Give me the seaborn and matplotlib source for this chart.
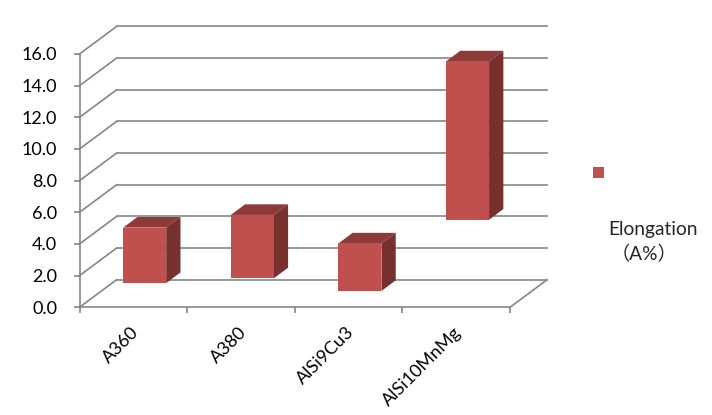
import numpy as np
import pandas as pd
import seaborn as sns
import matplotlib.pyplot as plt
from matplotlib.patches import Polygon, Rectangle
from matplotlib.transforms import Affine2D, IdentityTransform

# values
alloys = ["A360", "A380", "AlSi9Cu3", "AlSi10MnMg"]
elongation_low = [1.0, 1.3, 0.5, 5.0]
elongation_high = [4.5, 5.3, 3.5, 15.0]
y_ticks = [0, 2, 4, 6, 8, 10, 12, 14, 16]

RED_FRONT = "#C0504D"
RED_TOP = "#8E3A38"
RED_SIDE = "#77302E"
AXIS_GREY = "#868686"

# depth of the fake 3D box, in pixels
DEPTH_X = 37
DEPTH_Y = 27.5
BAR_FRONT = 0.307
BAR_BACK = 0.693

sns.set_style("ticks")
plt.rcParams["font.family"] = ["Lato", "Noto Sans CJK SC", "DejaVu Sans"]

df = pd.DataFrame({"alloy": alloys, "low": elongation_low, "high": elongation_high})
df["span"] = df["high"] - df["low"]

fig = plt.figure(figsize=(7.12, 4.15), dpi=100)
W, H = 712, 415
ax = fig.add_axes([79.5 / W, 1 - 307.3 / H, 430.5 / W, 253.3 / H])

sns.barplot(data=df, x="alloy", y="span", bottom=df["low"].values, width=0.4,
            color=RED_FRONT, saturation=1, ax=ax, zorder=5, linewidth=0, edgecolor="none")
ax.set_xlim(-0.5, len(alloys) - 0.5)
ax.set_ylim(0, 16)


# data position + depth (0 front, 1 back) -> pixels
def project(x, y, depth):
    px, py = ax.transData.transform((x, y))
    return px + depth * DEPTH_X, py + depth * DEPTH_Y


def line(p0, p1):
    ax.plot([p0[0], p1[0]], [p0[1], p1[1]], color=AXIS_GREY, lw=1.2,
            transform=IdentityTransform(), clip_on=False, zorder=1,
            solid_capstyle="projecting")


x_left, x_right = ax.get_xlim()

# walls and floor
for v in y_ticks:
    line(project(x_left, v, 0), project(x_left, v, 1))
    line(project(x_left, v, 1), project(x_right, v, 1))
line(project(x_right, 0, 0), project(x_right, 0, 1))

# shift front faces back, then add top and side faces
dx, dy = BAR_FRONT * DEPTH_X, BAR_FRONT * DEPTH_Y
for i, patch in enumerate(ax.patches):
    x0 = patch.get_x()
    x1 = x0 + patch.get_width()
    low = df["low"][i]
    high = df["high"][i]
    patch.set_transform(ax.transData + Affine2D().translate(dx, dy))
    patch.set_clip_on(False)
    top = [project(x0, high, BAR_FRONT), project(x1, high, BAR_FRONT),
           project(x1, high, BAR_BACK), project(x0, high, BAR_BACK)]
    side = [project(x1, low, BAR_FRONT), project(x1, high, BAR_FRONT),
            project(x1, high, BAR_BACK), project(x1, low, BAR_BACK)]
    ax.add_patch(Polygon(top, closed=True, facecolor=RED_TOP, edgecolor="none",
                         transform=IdentityTransform(), clip_on=False, zorder=4))
    ax.add_patch(Polygon(side, closed=True, facecolor=RED_SIDE, edgecolor="none",
                         transform=IdentityTransform(), clip_on=False, zorder=4))

# axes
sns.despine(ax=ax)
ax.spines["left"].set_color(AXIS_GREY)
ax.spines["bottom"].set_color(AXIS_GREY)
ax.spines["left"].set_linewidth(1.2)
ax.spines["bottom"].set_linewidth(1.2)
ax.set_xlabel("")
ax.set_ylabel("")
ax.set_yticks(y_ticks)
ax.set_yticklabels([f"{v:.1f}" for v in y_ticks])
ax.set_xticks(np.arange(len(alloys) + 1) - 0.5, minor=True)
ax.tick_params(axis="y", length=4.5, width=1.2, color=AXIS_GREY, pad=11.5,
               labelsize=13, labelcolor="black")
ax.tick_params(axis="x", which="minor", length=4.5, width=1.2, color=AXIS_GREY)
ax.tick_params(axis="x", which="major", length=0, pad=12, labelsize=13, labelcolor="black")
for label in ax.get_xticklabels():
    label.set_rotation(45)
    label.set_ha("right")
    label.set_rotation_mode("anchor")
    label.set_transform(label.get_transform() + Affine2D().translate(-3, 0))

# legend sits apart from its text in the original
fig.add_artist(Rectangle((593 / W, 1 - 178 / H), 11 / W, 11 / H, transform=fig.transFigure,
                         facecolor=RED_FRONT, edgecolor="none"))
fig.text(608.5 / W, 1 - 229 / H, "Elongation", fontsize=13.8, va="center", ha="left")
fig.text(611 / W, 1 - 254 / H, "（A%）", fontsize=13.8, va="center", ha="left")

fig.savefig("out.png", dpi=100)
